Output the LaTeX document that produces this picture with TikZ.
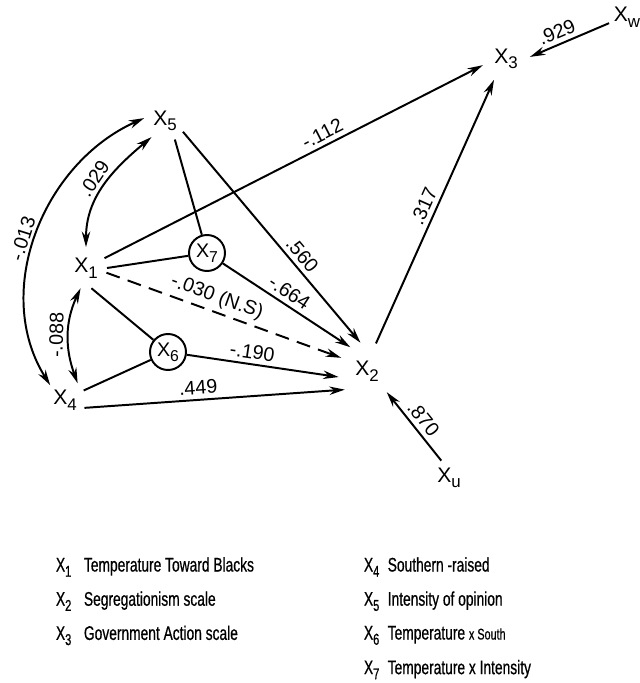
\documentclass[tikz,border=0pt]{standalone}
\usepackage{fontspec}
\setmainfont{Liberation Sans}
\newfontfamily\legendfont{Liberation Sans}[FakeStretch=0.7, FakeBold=0.6]
\usetikzlibrary{positioning, arrows.meta, calc}
\tikzset{
	>={Stealth[length=11pt, width=6pt]},
	var/.style={circle, inner sep=0pt, minimum size=1cm, font=\fontsize{15}{17}\selectfont},
	prod/.style={circle, draw, inner sep=0pt, minimum size=0.9cm, font=\fontsize{14}{16}\selectfont},
	coef/.style={sloped, above, inner sep=3pt, font=\fontsize{14}{16}\selectfont},
	legend/.style={anchor=west, inner sep=0pt, font=\legendfont\fontsize{14}{16}\selectfont},
}
\newcommand{\xv}[1]{X\raisebox{-0.5ex}{\scalebox{0.8}{#1}}}

\begin{document}
\begin{tikzpicture}[x=0.025cm, y=-0.025cm, line width=1.4pt]
	\useasboundingbox (0,0) rectangle (639,683);
	\node[var] (x1) at (86,268) {\xv{1}};
	\node[var, minimum size=1.4cm] (x2) at (367,371) {\xv{2}};
	\node[var, minimum size=1.15cm] (x3) at (506,59) {\xv{3}};
	\node[var] (x4) at (65,400) {\xv{4}};
	\node[var] (x5) at (165,121) {\xv{5}};
	\node[prod] (x6) at (168,352) {\xv{6}};
	\node[prod] (x7) at (207,253) {\xv{7}};
	\node[var, minimum size=0.9cm] (xw) at (627,17) {\xv{w}};
	\node[var, minimum size=0.9cm] (xu) at (449,478) {\xv{u}};
	
	\draw[->] (x1.28) -- node[coef, pos=0.59]{-.112} (x3.195);
	\draw[->] (x5.-31) -- node[coef, pos=0.62]{.560} (x2.103);
	\draw (x5.-62) -- (x7);
	\draw (x1.0) -- (x7);
	\draw[->] (x7) -- node[coef, pos=0.47]{-.664} (x2.125);
	\draw[->, dash pattern=on 10pt off 6pt] (x1.-13) -- node[coef, pos=0.45]{-.030 (N.S)} (x2.153);
	\draw (x1.-75) -- (x6);
	\draw (x4.27) -- (x6);
	\draw[->] (x6) -- node[coef, pos=0.42]{-.190} (x2.192);
	\draw[->] (x4.-22) -- node[coef, pos=0.44]{.449} (x2.220);
	\draw[->] (x2.72) -- node[coef, pos=0.5]{.317} (x3.240);
	\draw[->] (xw.199) -- node[coef, pos=0.6]{.929} (x3.5);
	\draw[->] (xu.114) -- node[coef, pos=0.5]{.870} (x2.-47);
	\draw[<->] (x5.230) to[out=220, in=90] node[coef]{.029} (x1.90);
	\draw[<->] (x1.255) to[out=245, in=110] node[coef]{-.088} (x4.53);
	\draw[<->] (x5.172) to[out=204, in=122] node[coef, pos=0.53]{-.013} (x4.135);
	
	\node[legend] (k1) at (55,567) {\xv{1}\hspace{9pt}Temperature Toward Blacks};
	\node[legend, below=0.855cm of k1.west, anchor=west] (k2) {\xv{2}\hspace{9pt}Segregationism scale};
	\node[legend, below=0.855cm of k2.west, anchor=west] (k3) {\xv{3}\hspace{9pt}Government Action scale};
	\node[legend] (k4) at (363,567) {\xv{4}\hspace{6pt}Southern -raised};
	\node[legend, below=0.855cm of k4.west, anchor=west] (k5) {\xv{5}\hspace{6pt}Intensity of opinion};
	\node[legend, below=0.855cm of k5.west, anchor=west] (k6) {\xv{6}\hspace{6pt}Temperature {\fontsize{11}{13}\selectfont x South}};
	\node[legend, below=0.855cm of k6.west, anchor=west] (k7) {\xv{7}\hspace{6pt}Temperature x Intensity};
\end{tikzpicture}
\end{document}
